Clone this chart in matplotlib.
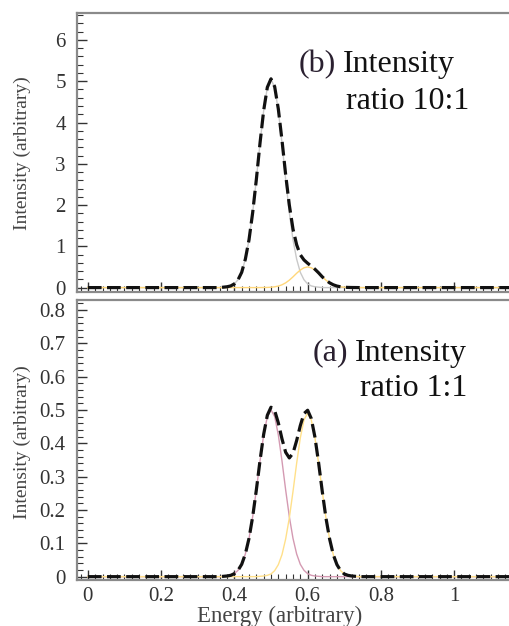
import matplotlib
matplotlib.use("Agg")
import matplotlib.pyplot as plt
from matplotlib.ticker import MultipleLocator

plt.rcParams['font.family'] = ['Liberation Serif', 'DejaVu Serif']

# energy grid
energy = [0.00, 0.10, 0.20, 0.30,
          0.36, 0.37, 0.38, 0.39, 0.40, 0.41, 0.42, 0.43, 0.44, 0.45,
          0.46, 0.47, 0.48, 0.49, 0.50, 0.51, 0.52, 0.53, 0.54, 0.55,
          0.56, 0.57, 0.58, 0.59, 0.60, 0.61, 0.62, 0.63, 0.64, 0.65,
          0.66, 0.67, 0.68, 0.69, 0.70, 0.71, 0.72, 0.73, 0.74,
          0.80, 0.90, 1.00, 1.10, 1.17]

# (a) ratio 1:1
a_peak1 = [0, 0, 0, 0,
           0.000, 0.001, 0.002, 0.004, 0.009, 0.019, 0.037, 0.068, 0.115, 0.180,
           0.260, 0.347, 0.425, 0.480, 0.500, 0.480, 0.425, 0.347, 0.260, 0.180,
           0.115, 0.068, 0.037, 0.019, 0.009, 0.004, 0.002, 0.001, 0.000, 0.000,
           0, 0, 0, 0, 0, 0, 0, 0, 0,
           0, 0, 0, 0, 0]
a_peak2 = [0, 0, 0, 0,
           0, 0, 0, 0, 0, 0, 0, 0, 0, 0,
           0.000, 0.001, 0.002, 0.004, 0.008, 0.018, 0.036, 0.066, 0.113, 0.176,
           0.255, 0.340, 0.416, 0.470, 0.490, 0.470, 0.416, 0.340, 0.255, 0.176,
           0.113, 0.066, 0.036, 0.018, 0.008, 0.004, 0.002, 0.001, 0.000,
           0, 0, 0, 0, 0]

# (b) ratio 10:1
b_peak1 = [0, 0, 0, 0,
           0.00, 0.01, 0.02, 0.04, 0.09, 0.19, 0.37, 0.69, 1.16, 1.82,
           2.62, 3.50, 4.29, 4.85, 5.05, 4.85, 4.29, 3.50, 2.62, 1.82,
           1.16, 0.69, 0.37, 0.19, 0.09, 0.04, 0.02, 0.01, 0.00, 0.00,
           0, 0, 0, 0, 0, 0, 0, 0, 0,
           0, 0, 0, 0, 0]
b_peak2 = [0, 0, 0, 0,
           0, 0, 0, 0, 0, 0, 0, 0, 0, 0,
           0.000, 0.001, 0.002, 0.004, 0.009, 0.019, 0.037, 0.068, 0.115, 0.180,
           0.260, 0.347, 0.425, 0.480, 0.500, 0.480, 0.425, 0.347, 0.260, 0.180,
           0.115, 0.068, 0.037, 0.019, 0.009, 0.004, 0.002, 0.001, 0.000,
           0, 0, 0, 0, 0]

xticks = [0, 0.2, 0.4, 0.6, 0.8, 1.0]
xtick_labels = ['0', '0.2', '0.4', '0.6', '0.8', '1']
top_yticks = [0, 1, 2, 3, 4, 5, 6]
bot_yticks = [0, 0.1, 0.2, 0.3, 0.4, 0.5, 0.6, 0.7, 0.8]
bot_ylabels = ['0', '0.1', '0.2', '0.3', '0.4', '0.5', '0.6', '0.7', '0.8']

fig = plt.figure(figsize=(5.09, 6.26), dpi=100)
ax_b = fig.add_axes([0.151, 0.534, 0.86, 0.445])
ax_a = fig.add_axes([0.151, 0.0735, 0.86, 0.4475])

def style(ax):
    for s in ['left', 'top', 'bottom']:
        ax.spines[s].set_color('#8a8a8a')
        ax.spines[s].set_linewidth(1.6)
    ax.spines['right'].set_visible(False)
    ax.set_xlim(-0.03, 1.165)
    ax.set_xticks(xticks)
    ax.xaxis.set_minor_locator(MultipleLocator(0.02))
    ax.tick_params(which='both', direction='in', colors='#333333',
                   labelsize=15, top=False, right=False)
    ax.tick_params(which='major', length=7, width=1.0)
    ax.tick_params(which='minor', length=4, width=0.8)
    ax.tick_params(axis='y', which='major', pad=8)
    ax.tick_params(axis='x', which='major', pad=5)

big = 23
dash = (4.3, 1.7)

total_b = [p + q for p, q in zip(b_peak1, b_peak2)]
ax_b.plot(energy, b_peak1, color='#c9c9c9', lw=1.0)
ax_b.plot(energy, b_peak2, color='#ffd77a', lw=1.0)
ax_b.plot(energy, total_b, color='#111111', lw=2.3, dashes=dash)
style(ax_b)
ax_b.set_ylim(-0.1, 6.65)
ax_b.set_yticks(top_yticks)
ax_b.yaxis.set_minor_locator(MultipleLocator(0.2))
ax_b.set_xticklabels([])
ax_b.text(0.575, 5.4, '(b)', fontsize=big, color='#2a2030', ha='left', va='center')
ax_b.text(0.695, 5.4, 'Intensity', fontsize=big, color='#111111', ha='left', va='center')
ax_b.text(0.706, 4.52, 'ratio 10:1', fontsize=big, color='#111111', ha='left', va='center')

total_a = [p + q for p, q in zip(a_peak1, a_peak2)]
ax_a.plot(energy, a_peak1, color='#d49ab2', lw=1.0)
ax_a.plot(energy, a_peak2, color='#ffe08a', lw=1.0)
ax_a.plot(energy, total_a, color='#111111', lw=2.3, dashes=dash)
style(ax_a)
ax_a.set_ylim(-0.01, 0.83)
ax_a.set_yticks(bot_yticks)
ax_a.set_yticklabels(bot_ylabels)
ax_a.yaxis.set_minor_locator(MultipleLocator(0.02))
ax_a.set_xticklabels(xtick_labels)
ax_a.text(0.614, 0.67, '(a)', fontsize=big, color='#2a2030', ha='left', va='center')
ax_a.text(0.728, 0.67, 'Intensity', fontsize=big, color='#111111', ha='left', va='center')
ax_a.text(0.742, 0.565, 'ratio 1:1', fontsize=big, color='#111111', ha='left', va='center')

fig.text(0.043, 1 - 153 / 626, 'Intensity (arbitrary)', rotation=90,
         fontsize=14, color='#444444', ha='center', va='center')
fig.text(0.043, 1 - 442 / 626, 'Intensity (arbitrary)', rotation=90,
         fontsize=14, color='#444444', ha='center', va='center')
fig.text(280 / 509, 1 - 606 / 626, 'Energy (arbitrary)',
         fontsize=16.5, color='#444444', ha='center', va='top')

fig.savefig('out.png', dpi=100)
